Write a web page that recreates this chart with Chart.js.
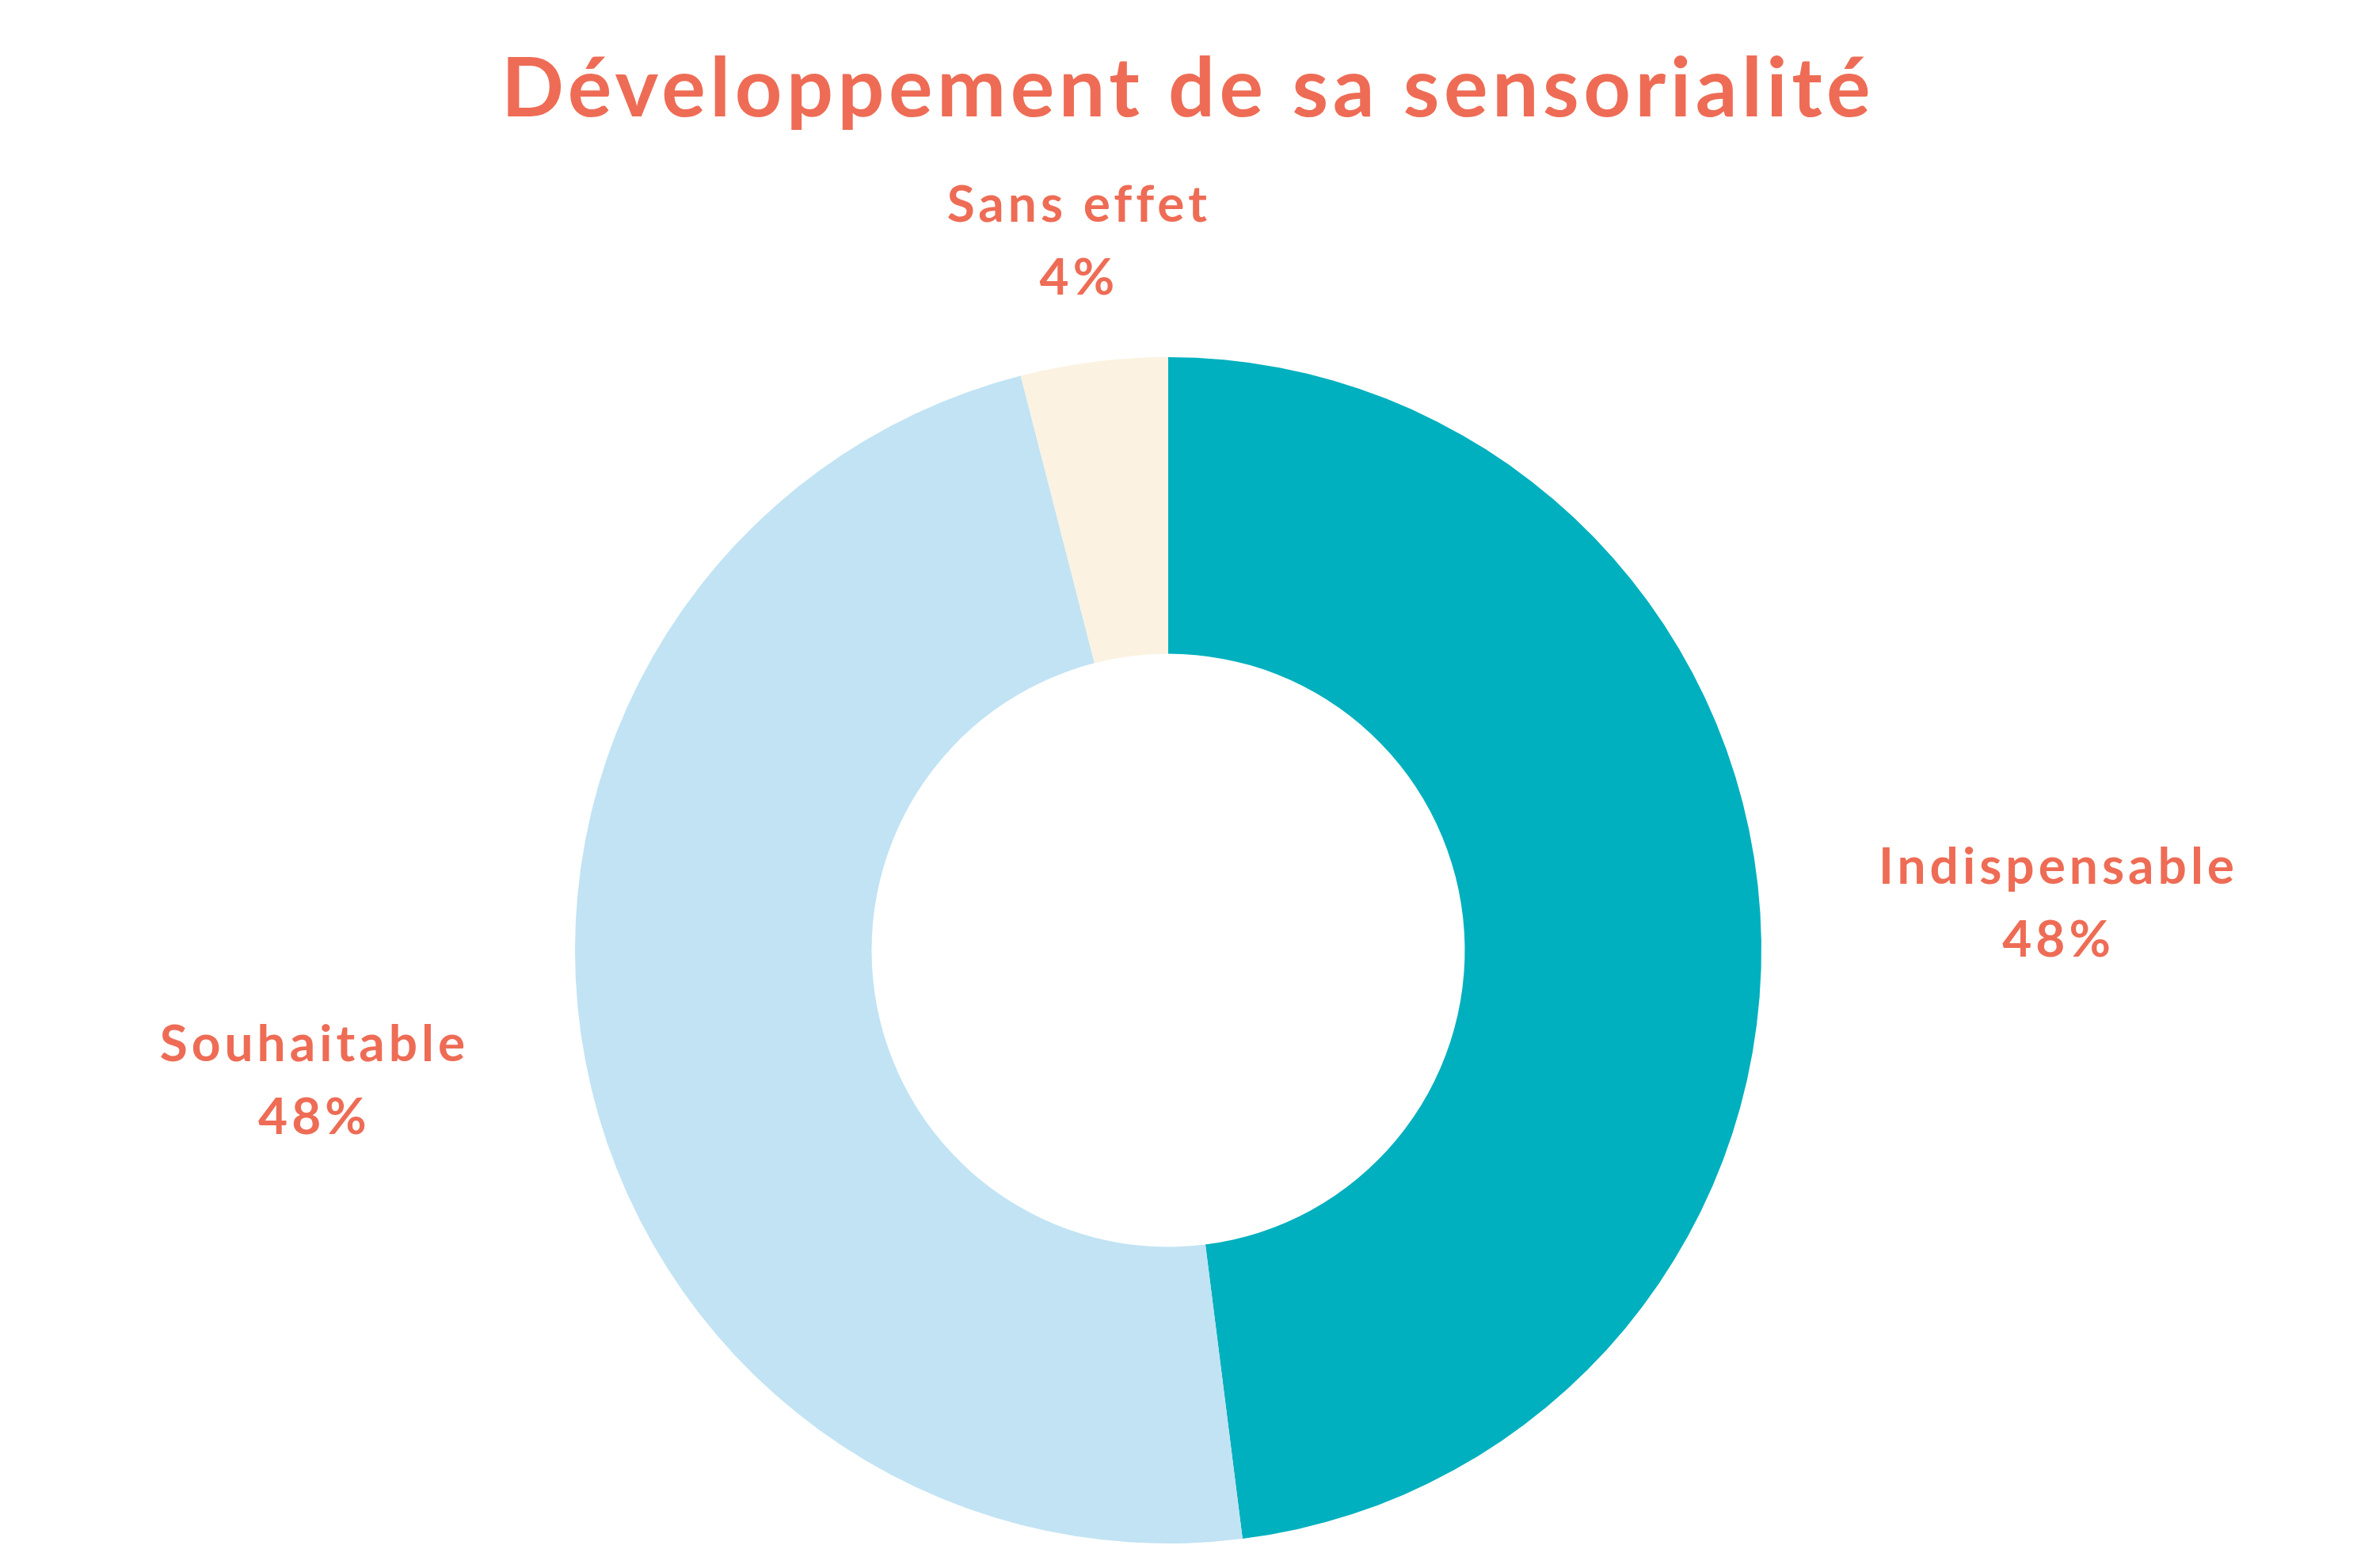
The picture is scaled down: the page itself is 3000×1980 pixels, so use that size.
<!DOCTYPE html>
<html>
<head>
<meta charset="utf-8">
<script src="https://cdn.jsdelivr.net/npm/chart.js@4/dist/chart.umd.min.js"></script>
<style>
  body { margin: 0; background: #ffffff; }
  #wrap { width: 3000px; height: 1980px; position: relative; }
</style>
</head>
<body>
<div id="wrap"><canvas id="donutChart"></canvas></div>
<script>

var titleText = "Développement de sa sensorialité";
var categories = ["Indispensable", "Souhaitable", "Sans effet"];
var values = [48, 48, 4];
var colors = ["#00B0BE", "#C1E3F4", "#FBF2E1"];
var textColor = "#EE6C55";

// title + outside labels, drawn on the canvas
var labelPlugin = {
	id: "outsideLabels",
	afterDraw: function(chart) {
		var ctx = chart.ctx;
		var meta = chart.getDatasetMeta(0);
		var total = 0;
		for (var i = 0; i < values.length; i++) total += values[i];

		ctx.save();
		ctx.fillStyle = textColor;

		// title
		ctx.font = "bold 104px Lato";
		ctx.letterSpacing = "5.5px";
		ctx.textAlign = "center";
		ctx.textBaseline = "alphabetic";
		ctx.fillText(titleText, chart.width / 2, 147);

		ctx.font = "bold 64px Lato";
		ctx.letterSpacing = "5px";
		for (var j = 0; j < meta.data.length; j++) {
			var arc = meta.data[j];
			var mid = (arc.startAngle + arc.endAngle) / 2;
			var r = arc.outerRadius * 1.2;
			var x = arc.x + r * Math.cos(mid);
			var y = arc.y + r * Math.sin(mid);
			var c = Math.cos(mid);
			if (c > 0.3) ctx.textAlign = "left";
			else if (c < -0.3) ctx.textAlign = "right";
			else ctx.textAlign = "center";

			var pct = Math.round(values[j] / total * 100) + "%";
			var w1 = ctx.measureText(categories[j]).width;
			var w2 = ctx.measureText(pct).width;
			// second line is centred under the first
			var x2 = x;
			if (ctx.textAlign == "left") x2 = x + (w1 - w2) / 2;
			if (ctx.textAlign == "right") x2 = x - (w1 - w2) / 2;
			ctx.fillText(categories[j], x, y - 28);
			ctx.fillText(pct, x2, y + 64);
		}
		ctx.restore();
	}
};

var ctx = document.getElementById("donutChart").getContext("2d");

new Chart(ctx, {
	type: "doughnut",
	data: {
		labels: categories,
		datasets: [{
			data: values,
			backgroundColor: colors,
			borderWidth: 0
		}]
	},
	options: {
		responsive: true,
		maintainAspectRatio: false,
		animation: false,
		cutout: "50%",
		layout: {
			padding: { top: 451, bottom: 31, left: 100, right: 150 }
		},
		plugins: {
			legend: { display: false },
			tooltip: { enabled: false }
		}
	},
	plugins: [labelPlugin]
});
</script>
</body>
</html>
